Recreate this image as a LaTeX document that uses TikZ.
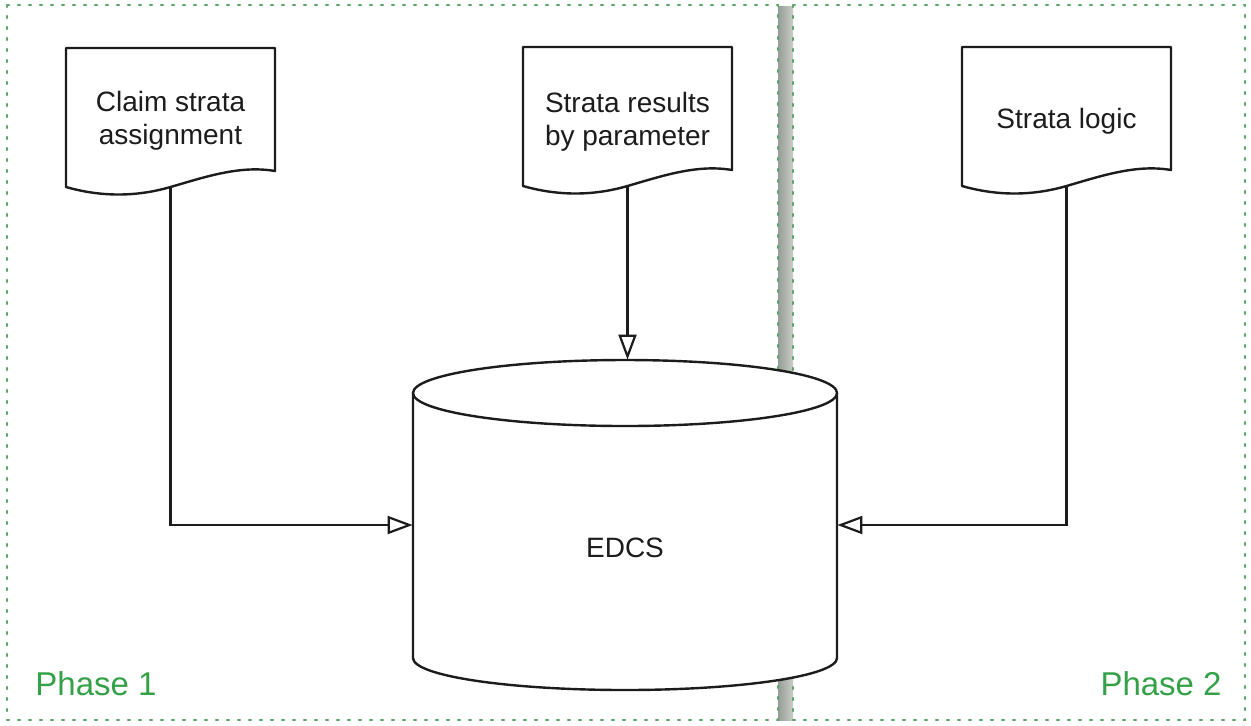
\documentclass[tikz,border=0pt]{standalone}
\usepackage{fontspec}
\setmainfont{Liberation Sans}
\usetikzlibrary{arrows.meta}
\definecolor{phasegreen}{RGB}{52,160,72}
\definecolor{borderg}{RGB}{90,165,105}
\definecolor{ink}{RGB}{28,28,28}
\definecolor{bardark}{RGB}{150,156,150}
\definecolor{barlight}{RGB}{200,205,200}

\tikzset{
  outline/.style={draw=ink, line width=1.2pt, fill=white, line join=round},
  phasebox/.style={draw=borderg, line width=1.2pt, dash pattern=on 1pt off 4.5pt, line cap=round},
  doctext/.style={text=ink, align=center, font=\fontsize{14}{16.5}\selectfont, inner sep=0pt},
  phaselabel/.style={text=phasegreen, font=\fontsize{16.5}{19}\selectfont, inner sep=0pt},
  conn/.style={draw=ink, line width=1.1pt, -{Triangle[open, length=12.5pt, width=9pt, line width=1.1pt]}},
  docshape/.pic={
    \path[outline] (0,0) -- (209,0) -- (209,123)
      .. controls (174,117) and (139,129) .. (104.5,139)
      .. controls (70,149) and (35,149) .. (0,139) -- cycle;
    \coordinate (-bot) at (104.5,139);
  }
}

\begin{document}
\begin{tikzpicture}[x=0.5pt, y=-0.5pt]
\useasboundingbox (0,0) rectangle (1251,725);
\fill[white] (0,0) rectangle (1251,725);

% divider between the two phases
\shade[left color=bardark, right color=barlight] (778,6) rectangle (793,720);

% phase frames
\draw[phasebox] (7,5) rectangle (778,720);
\draw[phasebox] (793,5) rectangle (1245,720);

% database cylinder
\node[minimum width=212pt, minimum height=165pt, inner sep=0pt] (db) at (625,525) {};
\path[outline] (413,393) -- (413,658)
  .. controls (413,675.7) and (507.9,690) .. (625,690)
  .. controls (742.1,690) and (837,675.7) .. (837,658)
  -- (837,393) -- cycle;
\draw[outline] (625,393) ellipse [x radius=212, y radius=33];
\node[doctext] (dbtext) at (625,548) {EDCS};

% documents
\pic (d1) at (66,48) {docshape};
\pic (d2) at (523,47) {docshape};
\pic (d3) at (962,47) {docshape};
\node[doctext] (t1) at (170.5,121) {Claim strata\\assignment};
\node[doctext] (t2) at (627.5,122) {Strata results\\by parameter};
\node[doctext] (t3) at (1066.5,121) {Strata logic};

% connectors
\draw[conn] (d1-bot) |- (db.west);
\draw[conn] (d2-bot) -- (d2-bot |- db.north);
\draw[conn] (d3-bot) |- (db.east);

% phase labels
\node[phaselabel, anchor=base west] (p1) at (35,695) {Phase 1};
\node[phaselabel, anchor=base east] (p2) at (1222,695) {Phase 2};
\end{tikzpicture}
\end{document}
